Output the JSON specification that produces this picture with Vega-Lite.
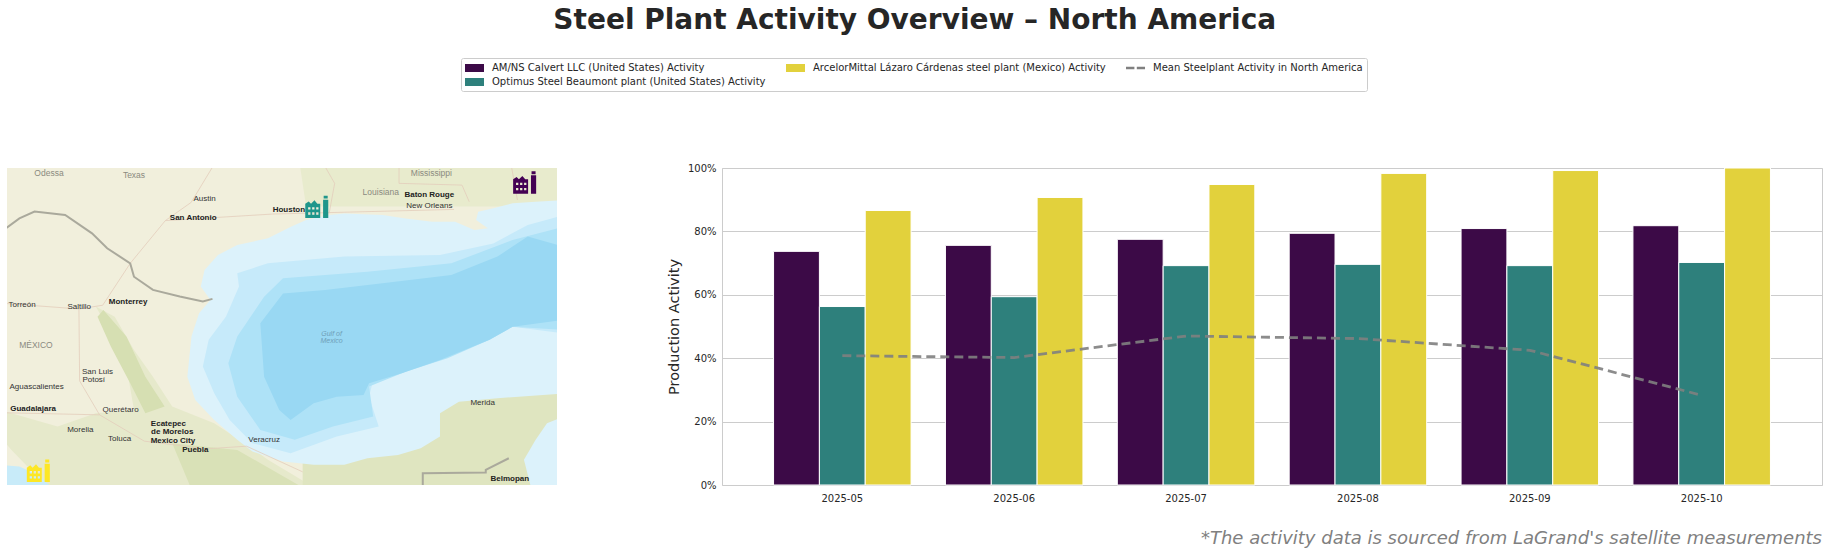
{
"$schema":"https://vega.github.io/schema/vega-lite/v6.json",
"padding":{"left":7,"right":5,"top":6,"bottom":0},
"background":"white",
"title":{"text":"Steel Plant Activity Overview – North America","font":"DejaVu Sans","fontSize":28,"fontWeight":"bold","color":"#262626","anchor":"middle","offset":23},
"config":{"font":"DejaVu Sans","axis":{"labelFont":"DejaVu Sans","titleFont":"DejaVu Sans"}},
"datasets":{
"bars":[
{"month":"2025-05","plant":"AM/NS Calvert LLC (United States) Activity","activity":73.7},
{"month":"2025-06","plant":"AM/NS Calvert LLC (United States) Activity","activity":75.6},
{"month":"2025-07","plant":"AM/NS Calvert LLC (United States) Activity","activity":77.5},
{"month":"2025-08","plant":"AM/NS Calvert LLC (United States) Activity","activity":79.4},
{"month":"2025-09","plant":"AM/NS Calvert LLC (United States) Activity","activity":80.9},
{"month":"2025-10","plant":"AM/NS Calvert LLC (United States) Activity","activity":81.8},
{"month":"2025-05","plant":"Optimus Steel Beaumont plant (United States) Activity","activity":56.3},
{"month":"2025-06","plant":"Optimus Steel Beaumont plant (United States) Activity","activity":59.4},
{"month":"2025-07","plant":"Optimus Steel Beaumont plant (United States) Activity","activity":69.2},
{"month":"2025-08","plant":"Optimus Steel Beaumont plant (United States) Activity","activity":69.6},
{"month":"2025-09","plant":"Optimus Steel Beaumont plant (United States) Activity","activity":69.2},
{"month":"2025-10","plant":"Optimus Steel Beaumont plant (United States) Activity","activity":70.2},
{"month":"2025-05","plant":"ArcelorMittal Lázaro Cárdenas steel plant (Mexico) Activity","activity":86.6},
{"month":"2025-06","plant":"ArcelorMittal Lázaro Cárdenas steel plant (Mexico) Activity","activity":90.7},
{"month":"2025-07","plant":"ArcelorMittal Lázaro Cárdenas steel plant (Mexico) Activity","activity":94.8},
{"month":"2025-08","plant":"ArcelorMittal Lázaro Cárdenas steel plant (Mexico) Activity","activity":98.3},
{"month":"2025-09","plant":"ArcelorMittal Lázaro Cárdenas steel plant (Mexico) Activity","activity":99.2},
{"month":"2025-10","plant":"ArcelorMittal Lázaro Cárdenas steel plant (Mexico) Activity","activity":100}
],
"mean":[
{"month":"2025-05","plant":"Mean Steelplant Activity in North America","activity":40.8},
{"month":"2025-06","plant":"Mean Steelplant Activity in North America","activity":40.2},
{"month":"2025-07","plant":"Mean Steelplant Activity in North America","activity":47},
{"month":"2025-08","plant":"Mean Steelplant Activity in North America","activity":46.2},
{"month":"2025-09","plant":"Mean Steelplant Activity in North America","activity":42.5},
{"month":"2025-10","plant":"Mean Steelplant Activity in North America","activity":28.3}
],
"shapes":[
{"r":"north","lon":-94.6,"lat":32.2},{"r":"north","lon":-94.4,"lat":30.1},{"r":"north","lon":-86.9,"lat":30.1},{"r":"north","lon":-86.9,"lat":32.2},
{"r":"sierra","lon":-100.51,"lat":25.54},{"r":"sierra","lon":-99.96,"lat":25.08},{"r":"sierra","lon":-99.4,"lat":23.56},{"r":"sierra","lon":-98.85,"lat":22.34},{"r":"sierra","lon":-98.29,"lat":20.98},{"r":"sierra","lon":-97.07,"lat":20.22},{"r":"sierra","lon":-96.18,"lat":19.31},{"r":"sierra","lon":-95.51,"lat":18.55},{"r":"sierra","lon":-94.07,"lat":17.2},{"r":"sierra","lon":-101.85,"lat":17.2},{"r":"sierra","lon":-102.96,"lat":19},{"r":"sierra","lon":-103.3,"lat":19.61},{"r":"sierra","lon":-103.3,"lat":20.83},{"r":"sierra","lon":-101.62,"lat":20.07},{"r":"sierra","lon":-100.51,"lat":20.67},{"r":"sierra","lon":-99.4,"lat":20.83},{"r":"sierra","lon":-99.62,"lat":22.8},{"r":"sierra","lon":-100.07,"lat":24.32},
{"r":"strip","lon":-100.29,"lat":25.38},{"r":"strip","lon":-99.62,"lat":24.17},{"r":"strip","lon":-99.07,"lat":22.34},{"r":"strip","lon":-98.51,"lat":20.98},{"r":"strip","lon":-99.07,"lat":20.67},{"r":"strip","lon":-99.51,"lat":22.04},{"r":"strip","lon":-100.07,"lat":23.71},{"r":"strip","lon":-100.46,"lat":25.08},
{"r":"south","lon":-96.4,"lat":19},{"r":"south","lon":-94.4,"lat":17.2},{"r":"south","lon":-97.73,"lat":17.2},{"r":"south","lon":-98.29,"lat":19.3},
{"r":"yucatan","lon":-94.5,"lat":19.2},{"r":"yucatan","lon":-90,"lat":22},{"r":"yucatan","lon":-86.9,"lat":22},{"r":"yucatan","lon":-86.9,"lat":17.2},{"r":"yucatan","lon":-94.5,"lat":17.2},
{"r":"shelf","lon":-86.9,"lat":30.4},{"r":"shelf","lon":-87.73,"lat":30.32},{"r":"shelf","lon":-88.4,"lat":30.25},{"r":"shelf","lon":-88.96,"lat":30.02},{"r":"shelf","lon":-89.4,"lat":29.87},{"r":"shelf","lon":-89.46,"lat":29.49},{"r":"shelf","lon":-89.12,"lat":29.11},{"r":"shelf","lon":-89.51,"lat":29.03},{"r":"shelf","lon":-90.07,"lat":29.41},{"r":"shelf","lon":-90.73,"lat":29.41},{"r":"shelf","lon":-91.51,"lat":29.56},{"r":"shelf","lon":-92.18,"lat":29.72},{"r":"shelf","lon":-93.29,"lat":29.79},{"r":"shelf","lon":-93.73,"lat":29.72},{"r":"shelf","lon":-94.4,"lat":29.49},{"r":"shelf","lon":-94.84,"lat":29.18},{"r":"shelf","lon":-95.51,"lat":28.65},{"r":"shelf","lon":-96.4,"lat":28.35},{"r":"shelf","lon":-96.96,"lat":27.89},{"r":"shelf","lon":-97.35,"lat":27.21},{"r":"shelf","lon":-97.46,"lat":26.45},{"r":"shelf","lon":-97.18,"lat":25.84},{"r":"shelf","lon":-97.51,"lat":25.23},{"r":"shelf","lon":-97.73,"lat":24.17},{"r":"shelf","lon":-97.85,"lat":22.34},{"r":"shelf","lon":-97.62,"lat":21.28},{"r":"shelf","lon":-97.07,"lat":20.37},{"r":"shelf","lon":-96.4,"lat":19.46},{"r":"shelf","lon":-95.96,"lat":18.93},{"r":"shelf","lon":-95.07,"lat":18.47},{"r":"shelf","lon":-94.18,"lat":18.32},{"r":"shelf","lon":-93.29,"lat":18.32},{"r":"shelf","lon":-92.62,"lat":18.62},{"r":"shelf","lon":-91.73,"lat":18.77},{"r":"shelf","lon":-91.07,"lat":19.08},{"r":"shelf","lon":-90.51,"lat":19.61},{"r":"shelf","lon":-90.51,"lat":20.67},{"r":"shelf","lon":-89.96,"lat":21.2},{"r":"shelf","lon":-88.84,"lat":21.36},{"r":"shelf","lon":-86.9,"lat":21.58},
{"r":"caribbean","lon":-86.9,"lat":20.52},{"r":"caribbean","lon":-87.4,"lat":20.22},{"r":"caribbean","lon":-87.73,"lat":19.46},{"r":"caribbean","lon":-88.07,"lat":18.55},{"r":"caribbean","lon":-87.85,"lat":17.2},{"r":"caribbean","lon":-86.9,"lat":17.2},
{"r":"pacific","lon":-103.3,"lat":18.32},{"r":"pacific","lon":-102.73,"lat":18.24},{"r":"pacific","lon":-102.18,"lat":17.86},{"r":"pacific","lon":-101.73,"lat":17.2},{"r":"pacific","lon":-103.3,"lat":17.2},
{"r":"mid","lon":-86.9,"lat":29.72},{"r":"mid","lon":-87.96,"lat":29.26},{"r":"mid","lon":-88.96,"lat":28.42},{"r":"mid","lon":-90.51,"lat":27.89},{"r":"mid","lon":-93.29,"lat":27.82},{"r":"mid","lon":-95.51,"lat":27.51},{"r":"mid","lon":-96.4,"lat":27.06},{"r":"mid","lon":-96.35,"lat":26.45},{"r":"mid","lon":-96.73,"lat":25.08},{"r":"mid","lon":-97.23,"lat":24.02},{"r":"mid","lon":-97.4,"lat":22.8},{"r":"mid","lon":-97.07,"lat":21.58},{"r":"mid","lon":-96.62,"lat":20.37},{"r":"mid","lon":-95.96,"lat":19.31},{"r":"mid","lon":-94.85,"lat":18.85},{"r":"mid","lon":-93.51,"lat":19.61},{"r":"mid","lon":-92.29,"lat":20.07},{"r":"mid","lon":-92.57,"lat":21.43},{"r":"mid","lon":-92.46,"lat":22.12},{"r":"mid","lon":-91.51,"lat":22.65},{"r":"mid","lon":-90.29,"lat":23.26},{"r":"mid","lon":-89.07,"lat":24.02},{"r":"mid","lon":-88.4,"lat":24.62},{"r":"mid","lon":-86.9,"lat":24.32},
{"r":"mid2","lon":-86.9,"lat":29.18},{"r":"mid2","lon":-88.4,"lat":28.58},{"r":"mid2","lon":-90.18,"lat":27.51},{"r":"mid2","lon":-92.62,"lat":27.13},{"r":"mid2","lon":-95.07,"lat":26.83},{"r":"mid2","lon":-95.62,"lat":25.99},{"r":"mid2","lon":-96.4,"lat":24.17},{"r":"mid2","lon":-96.66,"lat":22.95},{"r":"mid2","lon":-96.4,"lat":21.43},{"r":"mid2","lon":-95.73,"lat":19.91},{"r":"mid2","lon":-94.73,"lat":19.46},{"r":"mid2","lon":-93.62,"lat":20.07},{"r":"mid2","lon":-92.45,"lat":20.52},{"r":"mid2","lon":-92.57,"lat":21.89},{"r":"mid2","lon":-91.51,"lat":22.57},{"r":"mid2","lon":-90.29,"lat":23.18},{"r":"mid2","lon":-89.07,"lat":24.02},{"r":"mid2","lon":-88.4,"lat":24.62},{"r":"mid2","lon":-86.9,"lat":24.47},
{"r":"deep","lon":-86.9,"lat":28.27},{"r":"deep","lon":-87.96,"lat":28.73},{"r":"deep","lon":-88.84,"lat":27.82},{"r":"deep","lon":-90.18,"lat":26.98},{"r":"deep","lon":-92.18,"lat":26.6},{"r":"deep","lon":-93.85,"lat":26.3},{"r":"deep","lon":-95.07,"lat":26.14},{"r":"deep","lon":-95.73,"lat":24.78},{"r":"deep","lon":-95.62,"lat":22.34},{"r":"deep","lon":-95.18,"lat":20.82},{"r":"deep","lon":-94.85,"lat":20.37},{"r":"deep","lon":-94.18,"lat":21.13},{"r":"deep","lon":-93.51,"lat":21.43},{"r":"deep","lon":-92.73,"lat":21.51},{"r":"deep","lon":-92.57,"lat":22.04},{"r":"deep","lon":-91.62,"lat":22.5},{"r":"deep","lon":-90.51,"lat":23.1},{"r":"deep","lon":-89.07,"lat":24.02},{"r":"deep","lon":-88.4,"lat":24.62},{"r":"deep","lon":-86.9,"lat":24.93}
],
"borders":[
{"k":"usmx","lon":-103.3,"lat":28.9},{"k":"usmx","lon":-102.73,"lat":29.56},{"k":"usmx","lon":-102.29,"lat":29.87},{"k":"usmx","lon":-101.4,"lat":29.72},{"k":"usmx","lon":-100.62,"lat":28.88},{"k":"usmx","lon":-100.18,"lat":28.2},{"k":"usmx","lon":-99.51,"lat":27.51},{"k":"usmx","lon":-99.4,"lat":26.9},{"k":"usmx","lon":-98.85,"lat":26.3},{"k":"usmx","lon":-98.07,"lat":26},{"k":"usmx","lon":-97.4,"lat":25.77},{"k":"usmx","lon":-97.12,"lat":25.89},
{"k":"belize","lon":-91.01,"lat":17.2},{"k":"belize","lon":-91.01,"lat":17.94},{"k":"belize","lon":-89.18,"lat":17.97},{"k":"belize","lon":-89.18,"lat":18.09},{"k":"belize","lon":-88.51,"lat":18.62}
],
"roads":[
{"k":"r1","lon":-98.49,"lat":29.46},{"k":"r1","lon":-95.37,"lat":29.76},{"k":"r1","lon":-90.1,"lat":29.97},
{"k":"r2","lon":-98.49,"lat":29.46},{"k":"r2","lon":-99.51,"lat":27.51},{"k":"r2","lon":-100.31,"lat":25.6},
{"k":"r3","lon":-100.31,"lat":25.6},{"k":"r3","lon":-101,"lat":25.43},{"k":"r3","lon":-103.3,"lat":25.7},
{"k":"r4","lon":-97.74,"lat":30.29},{"k":"r4","lon":-97.12,"lat":31.9},
{"k":"r5","lon":-98.49,"lat":29.46},{"k":"r5","lon":-97.74,"lat":30.29},
{"k":"r6","lon":-99.1,"lat":19.4},{"k":"r6","lon":-97.3,"lat":19.05},{"k":"r6","lon":-96.13,"lat":19.17},{"k":"r6","lon":-94.5,"lat":18.0},
{"k":"r7","lon":-99.1,"lat":19.4},{"k":"r7","lon":-100.4,"lat":20.6},{"k":"r7","lon":-100.98,"lat":22.15},{"k":"r7","lon":-101,"lat":25.43},
{"k":"r8","lon":-100.4,"lat":20.6},{"k":"r8","lon":-103.3,"lat":20.7},
{"k":"s1","lon":-93.84,"lat":31.9},{"k":"s1","lon":-93.57,"lat":31.16},{"k":"s1","lon":-93.73,"lat":29.79},
{"k":"s2","lon":-91.7,"lat":31.16},{"k":"s2","lon":-89.87,"lat":31.08},{"k":"s2","lon":-89.66,"lat":30.32},
{"k":"s3","lon":-88.43,"lat":31.9},{"k":"s3","lon":-88.26,"lat":30.4},
{"k":"s4","lon":-91.7,"lat":31.9},{"k":"s4","lon":-91.7,"lat":31.16}
],
"labels":[
{"name":"Odessa","lon":-101.87,"lat":31.65,"k":"gray"},{"name":"Texas","lon":-99.4,"lat":31.55,"k":"gray"},{"name":"Louisiana","lon":-92.23,"lat":30.75,"k":"gray"},{"name":"Mississippi","lon":-90.76,"lat":31.65,"k":"gray"},{"name":"MÉXICO","lon":-102.25,"lat":23.79,"k":"gray"},
{"name":"Austin","lon":-97.35,"lat":30.45,"k":"city"},{"name":"New Orleans","lon":-90.82,"lat":30.13,"k":"city"},{"name":"Saltillo","lon":-100.99,"lat":25.52,"k":"city"},{"name":"Torreón","lon":-102.65,"lat":25.63,"k":"city"},{"name":"San Luis","lon":-100.46,"lat":22.55,"k":"city"},{"name":"Potosí","lon":-100.57,"lat":22.2,"k":"city"},{"name":"Aguascalientes","lon":-102.23,"lat":21.85,"k":"city"},{"name":"Querétaro","lon":-99.79,"lat":20.8,"k":"city"},{"name":"Morelia","lon":-100.96,"lat":19.91,"k":"city"},{"name":"Toluca","lon":-99.82,"lat":19.52,"k":"city"},{"name":"Veracruz","lon":-95.62,"lat":19.44,"k":"city"},{"name":"Merida","lon":-89.27,"lat":21.15,"k":"city"},
{"name":"San Antonio","lon":-97.68,"lat":29.59,"k":"major"},{"name":"Houston","lon":-94.9,"lat":29.93,"k":"major"},{"name":"Baton Rouge","lon":-90.82,"lat":30.63,"k":"major"},{"name":"Monterrey","lon":-99.57,"lat":25.75,"k":"major"},{"name":"Guadalajara","lon":-102.33,"lat":20.87,"k":"major"},{"name":"Ecatepec","lon":-98.4,"lat":20.2,"k":"major"},{"name":"de Morelos","lon":-98.29,"lat":19.8,"k":"major"},{"name":"Mexico City","lon":-98.27,"lat":19.4,"k":"major"},{"name":"Puebla","lon":-97.62,"lat":19.0,"k":"major"},{"name":"Belmopan","lon":-88.48,"lat":17.68,"k":"major"},
{"name":"Gulf of","lon":-93.66,"lat":24.3,"k":"sea"},{"name":"Mexico","lon":-93.66,"lat":23.95,"k":"sea"}
],
"sites":[
{"plant":"AM/NS Calvert LLC","lon":-88.05,"lat":31.21},
{"plant":"Optimus Steel Beaumont","lon":-94.09,"lat":30.1},
{"plant":"ArcelorMittal Lázaro Cárdenas","lon":-102.18,"lat":18.06}
]
},
"hconcat":[
{"width":550,"height":317,"view":{"fill":"#f1efdc","stroke":null},
"encoding":{
"x":{"field":"lon","type":"quantitative","scale":{"domain":[-103.09,-87.11],"nice":false,"zero":false},"axis":null},
"y":{"field":"lat","type":"quantitative","scale":{"domain":[17.4,31.86],"nice":false,"zero":false},"axis":null}
},
"layer":[
{"data":{"name":"shapes"},"transform":[{"filter":"datum.r=='north'"}],"mark":{"type":"line","fill":"#e8ebcd","stroke":null,"clip":true},"encoding":{"order":{"value":null}}},
{"data":{"name":"shapes"},"transform":[{"filter":"datum.r=='sierra'"}],"mark":{"type":"line","fill":"#e6e9cb","stroke":null,"clip":true},"encoding":{"order":{"value":null}}},
{"data":{"name":"shapes"},"transform":[{"filter":"datum.r=='strip'"}],"mark":{"type":"line","fill":"#d6dfb2","stroke":null,"clip":true},"encoding":{"order":{"value":null}}},
{"data":{"name":"shapes"},"transform":[{"filter":"datum.r=='south'"}],"mark":{"type":"line","fill":"#d9e1b7","stroke":null,"clip":true},"encoding":{"order":{"value":null}}},
{"data":{"name":"shapes"},"transform":[{"filter":"datum.r=='yucatan'"}],"mark":{"type":"line","fill":"#dfe5c0","stroke":null,"clip":true},"encoding":{"order":{"value":null}}},
{"data":{"name":"shapes"},"transform":[{"filter":"datum.r=='shelf'"}],"mark":{"type":"line","fill":"#dcf2fb","stroke":null,"clip":true},"encoding":{"order":{"value":null}}},
{"data":{"name":"shapes"},"transform":[{"filter":"datum.r=='caribbean'"}],"mark":{"type":"line","fill":"#dcf2fb","stroke":null,"clip":true},"encoding":{"order":{"value":null}}},
{"data":{"name":"shapes"},"transform":[{"filter":"datum.r=='pacific'"}],"mark":{"type":"line","fill":"#c8ebf9","stroke":null,"clip":true},"encoding":{"order":{"value":null}}},
{"data":{"name":"shapes"},"transform":[{"filter":"datum.r=='mid'"}],"mark":{"type":"line","fill":"#c6eafa","stroke":null,"clip":true},"encoding":{"order":{"value":null}}},
{"data":{"name":"shapes"},"transform":[{"filter":"datum.r=='mid2'"}],"mark":{"type":"line","fill":"#aee2f7","stroke":null,"clip":true},"encoding":{"order":{"value":null}}},
{"data":{"name":"shapes"},"transform":[{"filter":"datum.r=='deep'"}],"mark":{"type":"line","fill":"#99d8f3","stroke":null,"clip":true},"encoding":{"order":{"value":null}}},
{"data":{"name":"roads"},"mark":{"type":"line","stroke":"#e3cdbb","strokeWidth":0.8,"clip":true},"encoding":{"detail":{"field":"k"},"order":{"value":null}}},
{"data":{"name":"borders"},"mark":{"type":"line","stroke":"#aaa99c","strokeWidth":2,"clip":true},"encoding":{"detail":{"field":"k"},"order":{"value":null}}},
{"data":{"name":"labels"},"transform":[{"filter":"datum.k=='gray'"}],"mark":{"type":"text","font":"Liberation Sans","fontSize":8.5,"color":"#8a8a80","clip":true},"encoding":{"text":{"field":"name"}}},
{"data":{"name":"labels"},"transform":[{"filter":"datum.k=='city'"}],"mark":{"type":"text","font":"Liberation Sans","fontSize":8,"color":"#333333","clip":true},"encoding":{"text":{"field":"name"}}},
{"data":{"name":"labels"},"transform":[{"filter":"datum.k=='major'"}],"mark":{"type":"text","font":"Liberation Sans","fontSize":8,"color":"#222222","fontWeight":"bold","clip":true},"encoding":{"text":{"field":"name"}}},
{"data":{"name":"labels"},"transform":[{"filter":"datum.k=='sea'"}],"mark":{"type":"text","font":"Liberation Sans","fontStyle":"italic","fontSize":7,"color":"#6f9fb8","clip":true},"encoding":{"text":{"field":"name"}}},
{"data":{"name":"sites"},"mark":{"type":"point","filled":true,"opacity":1,"size":529,"strokeWidth":0,"shape":"M-1,1V-0.25L-0.7,-0.45L-0.5,-0.25L-0.2,-0.55L0.05,-0.25H0.3V1ZM-0.75,0.05V0.25H-0.55V0.05ZM-0.4,0.05V0.25H-0.2V0.05ZM-0.05,0.05V0.25H0.15V0.05ZM-0.75,0.5V0.7H-0.55V0.5ZM-0.4,0.5V0.7H-0.2V0.5ZM-0.05,0.5V0.7H0.15V0.5ZM0.55,1V-0.6H1V1ZM0.6,-0.7V-0.95H0.95V-0.7Z"},"encoding":{"fill":{"field":"plant","type":"nominal","scale":{"domain":["AM/NS Calvert LLC","Optimus Steel Beaumont","ArcelorMittal Lázaro Cárdenas"],"range":["#440154","#1f968b","#fde725"]},"legend":null}}}
]
},
{"width":1100,"height":317,
"view":{"stroke":"#cccccc"},
"title":{"text":"*The activity data is sourced from LaGrand's satellite measurements","orient":"bottom","anchor":"end","font":"DejaVu Sans","fontStyle":"italic","fontWeight":"normal","fontSize":18,"color":"#808080","offset":27},
"layer":[
{"data":{"name":"bars"},
"mark":{"type":"bar","stroke":"white","strokeWidth":1},
"encoding":{
"x":{"field":"month","type":"nominal","scale":{"paddingInner":0.2,"paddingOuter":0.3},"axis":{"title":null,"labelAngle":0,"ticks":false,"domain":false,"labelFontSize":10,"labelColor":"#262626","labelPadding":8}},
"xOffset":{"field":"plant","type":"nominal","sort":["AM/NS Calvert LLC (United States) Activity","Optimus Steel Beaumont plant (United States) Activity","ArcelorMittal Lázaro Cárdenas steel plant (Mexico) Activity"],"scale":{"paddingInner":0,"paddingOuter":0}},
"y":{"field":"activity","type":"quantitative","scale":{"domain":[0,100]},"axis":{"title":"Production Activity","titleFontSize":14.5,"titleFontWeight":"normal","titleColor":"#262626","titlePadding":6,"values":[0,20,40,60,80,100],"labelExpr":"datum.value+'%'","gridColor":"#cccccc","gridWidth":1,"ticks":false,"domain":false,"labelFontSize":10,"labelColor":"#262626","labelPadding":6}},
"color":{"field":"plant","type":"nominal","scale":{"domain":["AM/NS Calvert LLC (United States) Activity","ArcelorMittal Lázaro Cárdenas steel plant (Mexico) Activity","Mean Steelplant Activity in North America","Optimus Steel Beaumont plant (United States) Activity"],"range":["#3c0a47","#e2d13c","#808080","#2e807c"]},
"legend":{"title":null,"orient":"none","direction":"horizontal","legendX":454,"legendY":-110,"columns":3,"columnPadding":20,"rowPadding":3,"padding":4,"strokeColor":"#cccccc","fillColor":"white","cornerRadius":2,"labelFont":"DejaVu Sans","labelFontSize":10,"labelColor":"#262626","labelOffset":15,"labelLimit":400,"symbolSize":144,"symbolType":"M-1,-0.67H2.17V0.67H-1Z","symbolOpacity":1,"symbolStrokeWidth":0,
"encoding":{"symbols":{"shape":{"condition":{"test":"datum.value==='Mean Steelplant Activity in North America'","value":"M-1,-0.2H0.4V0.2H-1ZM0.8,-0.2H2.17V0.2H0.8Z"},"value":"M-1,-0.67H2.17V0.67H-1Z"}}}}}
}},
{"data":{"name":"mean"},
"mark":{"type":"line","strokeWidth":2.8,"strokeDash":[9,5],"interpolate":"linear","opacity":0.9},
"encoding":{
"x":{"field":"month","type":"nominal"},
"y":{"field":"activity","type":"quantitative"},
"color":{"field":"plant","type":"nominal"}
}}
]
}
],
"spacing":108
}
